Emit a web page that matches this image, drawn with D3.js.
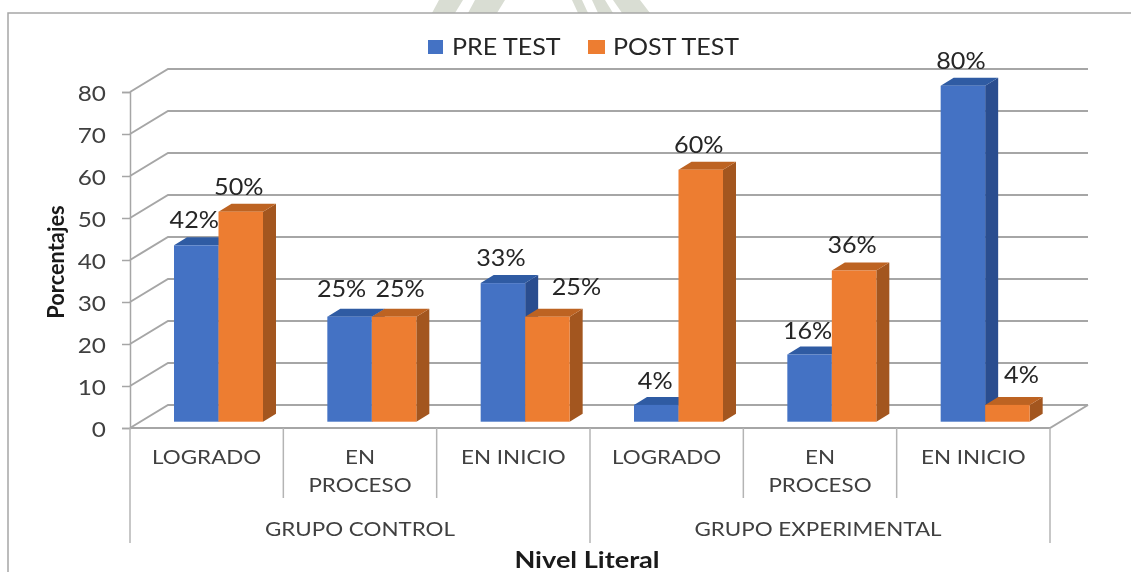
<!DOCTYPE html>
<html>
<head>
<meta charset="utf-8">
<script src="https://cdn.jsdelivr.net/npm/d3@7"></script>
<style>
html, body { margin: 0; padding: 0; background: #fff; }
svg { display: block; filter: blur(0.45px); }
text { font-family: Lato, "Open Sans", sans-serif; fill: #404040; }
</style>
</head>
<body>
<svg width="1131" height="572"></svg>
<script>
var categories = ["LOGRADO", "EN PROCESO", "EN INICIO", "LOGRADO", "EN PROCESO", "EN INICIO"];
var groups = ["GRUPO CONTROL", "GRUPO EXPERIMENTAL"];
var seriesNames = ["PRE TEST", "POST TEST"];
var preTest = [42, 25, 33, 4, 16, 80];
var postTest = [50, 25, 25, 60, 36, 4];
var yTicks = [0, 10, 20, 30, 40, 50, 60, 70, 80];

var left = 130, right = 1050, bottom = 428, top_ = 92;
var depthX = 38, depthY = -23;       // depth of the chart box
var barDepthX = 13, barDepthY = -8;  // depth of one bar
var barFloorY = -6.3;                // bars stand a bit behind the front edge
var wide = 1.12;                     // the original picture is stretched sideways

var svg = d3.select("svg");

function place(x, y, sx) {
    return "translate(" + x + "," + y + ") scale(" + sx + ",1)";
}

// Watermark leftovers above the frame
svg.append("g").attr("fill", "#d9ddd3")
    .selectAll("polygon")
    .data(["432,13 439,0 463,0 455,13", "468,13 475,0 505,0 497,13",
           "572,0 582,0 588,13 578,13", "592,0 605,0 613,13 598,13", "613,0 640,0 650,13 622,13"])
    .enter().append("polygon")
    .attr("points", function(d) { return d; });

// Frame
svg.append("path")
    .attr("d", "M8,572V13H1131")
    .attr("fill", "none")
    .attr("stroke", "#a6a6a6")
    .attr("stroke-width", 1.5);

// Scales
var xscale = d3.scaleBand().domain(d3.range(categories.length)).range([left, right]);
var yscale = d3.scaleLinear().domain([0, 80]).range([bottom, top_]);
var inner = d3.scaleBand().domain([0, 1]).range([44, 133]);

// Gridlines: back wall and side wall
var grid = svg.append("g").attr("fill", "none");
grid.selectAll("path.wall")
    .data(yTicks)
    .enter().append("path")
    .attr("class", "wall")
    .attr("stroke", "#a6a6a6")
    .attr("stroke-width", 2)
    .attr("d", function(d) {
        return "M" + left + "," + yscale(d) + "L" + (left + depthX) + "," + (yscale(d) + depthY) +
            "H" + (right + depthX);
    });

// Floor edge
grid.append("path")
    .attr("stroke", "#a6a6a6")
    .attr("stroke-width", 2)
    .attr("d", "M" + left + "," + bottom + "H" + right + "L" + (right + depthX) + "," + (bottom + depthY));

// Left axis
svg.append("g")
    .attr("transform", "translate(" + left + ",0)")
    .call(d3.axisLeft(yscale).tickValues(yTicks).tickSize(8))
    .call(function(g) {
        g.select(".domain").attr("stroke", "#a6a6a6").attr("stroke-width", 1.5);
        g.selectAll(".tick line").attr("stroke", "#a6a6a6").attr("stroke-width", 1.5);
        g.selectAll(".tick text")
            .attr("x", 0)
            .attr("transform", place(-24, 0, 1.16))
            .attr("font-size", 21)
            .attr("dy", "0.42em")
            .style("font-family", "Lato")
            .style("fill", "#404040");
    });

// Category dividers
var dividers = d3.range(categories.length + 1);
svg.append("g").selectAll("line")
    .data(dividers)
    .enter().append("line")
    .attr("x1", function(d) { return left + d * xscale.step(); })
    .attr("x2", function(d) { return left + d * xscale.step(); })
    .attr("y1", bottom)
    .attr("y2", function(d) { return d % 3 === 0 ? 543 : 498; })
    .attr("stroke", "#b4b4b4")
    .attr("stroke-width", 1.5);

// Category labels, EN PROCESO wraps on two lines
var catLabels = svg.append("g").attr("text-anchor", "middle").attr("font-size", 20);
categories.forEach(function(c, i) {
    var lines = c === "EN PROCESO" ? c.split(" ") : [c];
    lines.forEach(function(line, j) {
        catLabels.append("text")
            .attr("transform", place(xscale(i) + xscale.bandwidth() / 2, 457 + j * 28, wide))
            .attr("dy", "0.35em")
            .text(line);
    });
});

svg.append("g").attr("text-anchor", "middle").attr("font-size", 20)
    .selectAll("text")
    .data(groups)
    .enter().append("text")
    .attr("transform", function(d, i) {
        return place(left + (i * 3 + 1.5) * xscale.step() - i * 2, 529, wide);
    })
    .attr("dy", "0.35em")
    .text(function(d) { return d; });

// Bars
var bars = [];
categories.forEach(function(c, i) {
    bars.push({cat: i, series: 0, value: preTest[i]});
});
categories.forEach(function(c, i) {
    bars.push({cat: i, series: 1, value: postTest[i]});
});
// paint from left to right so each bar overlaps the side of the one before
bars.sort(function(a, b) { return (a.cat - b.cat) || (a.series - b.series); });

var colors = [
    {front: "#4472c4", side: "#2a4d8f", top: "#2f5ba3"},
    {front: "#ed7d31", side: "#a3561f", top: "#bd6322"}
];

function barX(d) { return xscale(d.cat) + inner(d.series); }
function barTop(d) { return yscale(d.value) + barFloorY; }

var bar = svg.append("g").selectAll("g")
    .data(bars)
    .enter().append("g");

// side
bar.append("path")
    .attr("fill", function(d) { return colors[d.series].side; })
    .attr("d", function(d) {
        var x = barX(d) + inner.bandwidth(), y0 = yscale(0) + barFloorY, y1 = barTop(d);
        return "M" + x + "," + y0 + "V" + y1 + "l" + barDepthX + "," + barDepthY +
            "V" + (y0 + barDepthY) + "Z";
    });
// top
bar.append("path")
    .attr("fill", function(d) { return colors[d.series].top; })
    .attr("d", function(d) {
        var x = barX(d), y1 = barTop(d);
        return "M" + x + "," + y1 + "l" + barDepthX + "," + barDepthY + "h" + inner.bandwidth() +
            "l" + (-barDepthX) + "," + (-barDepthY) + "Z";
    });
// front
bar.append("rect")
    .attr("fill", function(d) { return colors[d.series].front; })
    .attr("x", barX)
    .attr("y", barTop)
    .attr("width", inner.bandwidth())
    .attr("height", function(d) { return yscale(0) - yscale(d.value); });

// Data labels. Most sit above the bar, a few were moved by hand in the original
var nudge = {
    "1-0": [-8, -3], "1-1": [6, -3], "2-1": [29, -5], "3-0": [-1, 1],
    "4-0": [-2, 2], "5-1": [14, -5]
};
svg.append("g").attr("text-anchor", "middle").attr("font-size", 22.5)
    .selectAll("text")
    .data(bars)
    .enter().append("text")
    .attr("transform", function(d) {
        var n = nudge[d.cat + "-" + d.series] || [-2, 0];
        return place(barX(d) + inner.bandwidth() / 2 + n[0], barTop(d) + barDepthY - 17 + n[1], wide);
    })
    .attr("dy", "0.35em")
    .style("fill", "#262626")
    .text(function(d) { return d.value + "%"; });

// Legend
var legend = svg.append("g").selectAll("g")
    .data(seriesNames)
    .enter().append("g")
    .attr("transform", function(d, i) { return "translate(" + (i === 0 ? 428 : 588) + ",40)"; });
legend.append("rect")
    .attr("width", function(d, i) { return 15 + i * 2; })
    .attr("height", 14)
    .attr("fill", function(d, i) { return colors[i].front; });
legend.append("text")
    .attr("transform", function(d, i) { return place(24 + i, 7, 1.09); })
    .attr("dy", "0.35em")
    .attr("font-size", 23)
    .style("fill", "#262626")
    .text(function(d) { return d; });

// Axis titles
svg.append("text")
    .attr("transform", "translate(56,262) rotate(-90) scale(1.09,1.1)")
    .attr("text-anchor", "middle")
    .attr("dy", "0.35em")
    .attr("font-size", 20)
    .attr("font-weight", 700)
    .style("fill", "#1a1a1a")
    .text("Porcentajes");

svg.append("text")
    .attr("transform", place(587, 560, 1.18))
    .attr("text-anchor", "middle")
    .attr("dy", "0.35em")
    .attr("font-size", 23)
    .attr("font-weight", 700)
    .style("fill", "#1a1a1a")
    .text("Nivel Literal");
</script>
</body>
</html>
